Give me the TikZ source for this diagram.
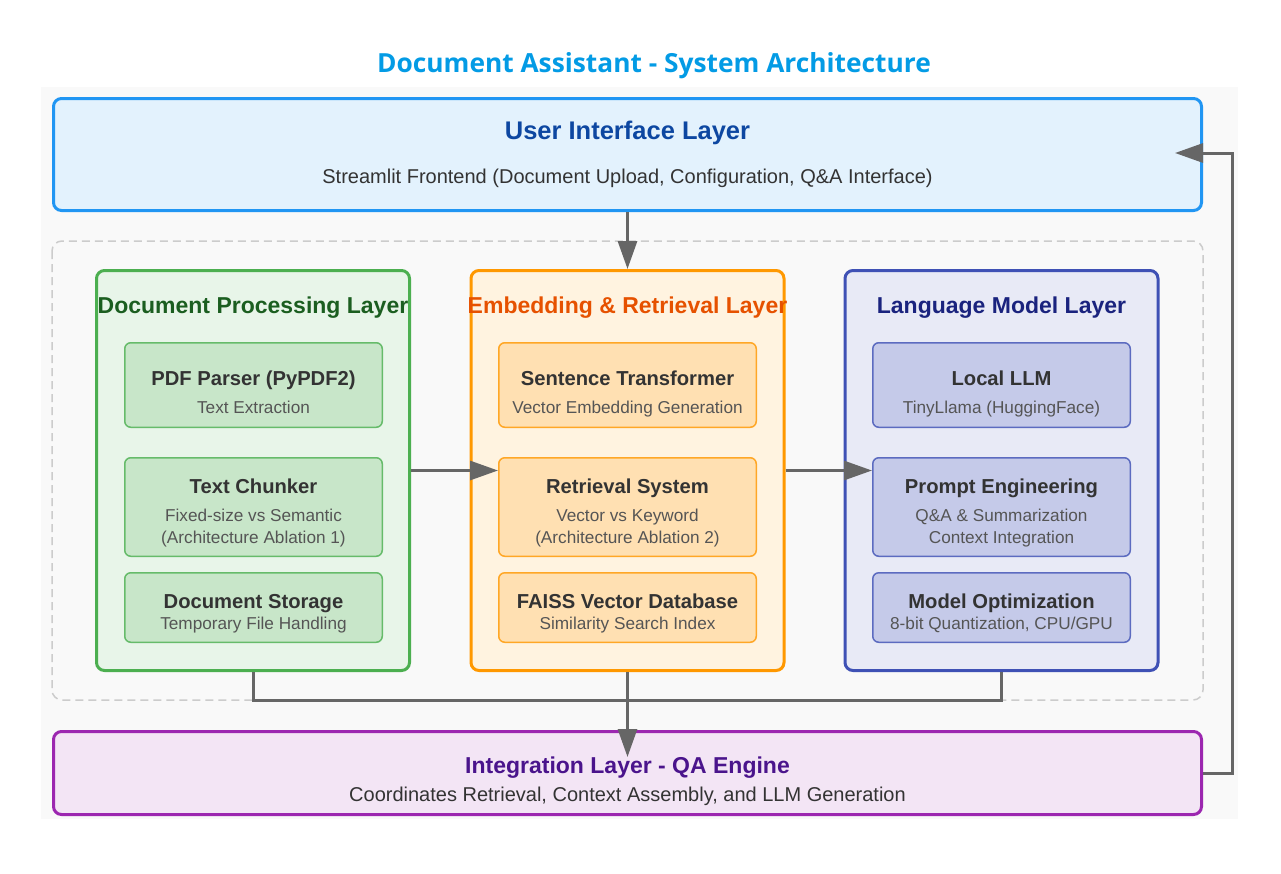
\documentclass[tikz,border=0pt]{standalone}
\usepackage{fontspec}
\setmainfont{Liberation Sans}
\newfontfamily\headfont{Open Sans}
\usetikzlibrary{arrows.meta}

\definecolor{bggray}{HTML}{F9F9F9}
\definecolor{titleblue}{HTML}{039BE5}
\definecolor{darktext}{HTML}{333333}
\definecolor{subtext}{HTML}{555555}
\definecolor{framegray}{HTML}{CCCCCC}
\definecolor{linkgray}{HTML}{666666}
\definecolor{uifill}{HTML}{E3F2FD}
\definecolor{uiline}{HTML}{2196F3}
\definecolor{uititle}{HTML}{0D47A1}
\definecolor{procfill}{HTML}{E8F5E9}
\definecolor{procline}{HTML}{4CAF50}
\definecolor{proctitle}{HTML}{1B5E20}
\definecolor{procin}{HTML}{C8E6C9}
\definecolor{procinline}{HTML}{66BB6A}
\definecolor{embfill}{HTML}{FFF3E0}
\definecolor{embline}{HTML}{FF9800}
\definecolor{embtitle}{HTML}{E65100}
\definecolor{embin}{HTML}{FFE0B2}
\definecolor{embinline}{HTML}{FFA726}
\definecolor{lmfill}{HTML}{E8EAF6}
\definecolor{lmline}{HTML}{3F51B5}
\definecolor{lmtitle}{HTML}{1A237E}
\definecolor{lmin}{HTML}{C5CAE9}
\definecolor{lminline}{HTML}{5C6BC0}
\definecolor{qafill}{HTML}{F3E5F5}
\definecolor{qaline}{HTML}{9C27B0}
\definecolor{qatitle}{HTML}{4A148C}

\begin{document}
\begin{tikzpicture}[x=1pt,y=-1pt,
  layer/.style={draw,rounded corners=8pt,line width=3pt,minimum width=1148pt,inner sep=0pt},
  column/.style={draw,rounded corners=8pt,line width=3pt,minimum width=313pt,minimum height=400pt,inner sep=0pt},
  inbox/.style={draw,rounded corners=6pt,line width=1.5pt,minimum width=257.5pt,inner sep=0pt},
  bigtxt/.style={anchor=base,inner sep=0pt,font=\fontsize{25.5}{30}\selectfont\bfseries},
  headtxt/.style={anchor=base,inner sep=0pt,font=\fontsize{23}{27}\selectfont\bfseries},
  bodytxt/.style={anchor=base,inner sep=0pt,text=darktext,font=\fontsize{20}{24}\selectfont},
  intitle/.style={anchor=base,inner sep=0pt,text=darktext,font=\fontsize{20.2}{24}\selectfont\bfseries},
  insub/.style={anchor=base,inner sep=0pt,text=subtext,font=\fontsize{17.2}{20}\selectfont},
  link/.style={draw=linkgray,line width=3pt},
  arr/.style={link,-{Triangle[length=28pt,width=19pt]}}]

  \useasboundingbox (0,0) rectangle (1281,873);
  \fill[bggray] (41,87) rectangle (1238,819);

  \node[anchor=base,inner sep=0pt,text=titleblue,font=\headfont\fontsize{26.3}{31}\selectfont\bfseries] (title) at (654,72) {Document Assistant - System Architecture};

  % user interface layer
  \node[layer,draw=uiline,fill=uifill,minimum height=112pt] (ui) at (627.5,154.5) {};
  \node[bigtxt,text=uititle] (ui-t) at (627.5,139.5) {User Interface Layer};
  \node[bodytxt] (ui-s) at (627.5,183) {Streamlit Frontend (Document Upload, Configuration, Q\&A Interface)};

  \draw[framegray,dash pattern=on 8pt off 5pt,line width=1.5pt,rounded corners=10pt] (52,241) rectangle (1203,700);

  % document processing
  \node[column,draw=procline,fill=procfill] (proc) at (253,470.5) {};
  \node[headtxt,text=proctitle] (proc-t) at (253,313) {Document Processing Layer};
  \node[inbox,draw=procinline,fill=procin,minimum height=84.5pt] (pdf) at (253.5,385) {};
  \node[intitle] (pdf-t) at (253.5,385) {PDF Parser (PyPDF2)};
  \node[insub] (pdf-s) at (253.5,413) {Text Extraction};
  \node[inbox,draw=procinline,fill=procin,minimum height=98.5pt] (chunk) at (253.5,507) {};
  \node[intitle] (chunk-t) at (253.5,493) {Text Chunker};
  \node[insub] (chunk-s) at (253.5,521.5) {Fixed-size vs Semantic};
  \node[insub] (chunk-a) at (253.5,543.5) {(Architecture Ablation 1)};
  \node[inbox,draw=procinline,fill=procin,minimum height=69.5pt] (store) at (253.5,607.5) {};
  \node[intitle] (store-t) at (253.5,608) {Document Storage};
  \node[insub] (store-s) at (253.5,629.5) {Temporary File Handling};

  % embedding and retrieval
  \node[column,draw=embline,fill=embfill] (emb) at (627.5,470.5) {};
  \node[headtxt,text=embtitle] (emb-t) at (627.5,313) {Embedding \& Retrieval Layer};
  \node[inbox,draw=embinline,fill=embin,minimum height=84.5pt] (sent) at (627.5,385) {};
  \node[intitle] (sent-t) at (627.5,385) {Sentence Transformer};
  \node[insub] (sent-s) at (627.5,413) {Vector Embedding Generation};
  \node[inbox,draw=embinline,fill=embin,minimum height=98.5pt] (retr) at (627.5,507) {};
  \node[intitle] (retr-t) at (627.5,493) {Retrieval System};
  \node[insub] (retr-s) at (627.5,521.5) {Vector vs Keyword};
  \node[insub] (retr-a) at (627.5,543.5) {(Architecture Ablation 2)};
  \node[inbox,draw=embinline,fill=embin,minimum height=69.5pt] (faiss) at (627.5,607.5) {};
  \node[intitle] (faiss-t) at (627.5,608) {FAISS Vector Database};
  \node[insub] (faiss-s) at (627.5,629.5) {Similarity Search Index};

  % language model
  \node[column,draw=lmline,fill=lmfill] (lm) at (1001.5,470.5) {};
  \node[headtxt,text=lmtitle] (lm-t) at (1001.5,313) {Language Model Layer};
  \node[inbox,draw=lminline,fill=lmin,minimum height=84.5pt] (llm) at (1001.5,385) {};
  \node[intitle] (llm-t) at (1001.5,385) {Local LLM};
  \node[insub] (llm-s) at (1001.5,413) {TinyLlama (HuggingFace)};
  \node[inbox,draw=lminline,fill=lmin,minimum height=98.5pt] (prompt) at (1001.5,507) {};
  \node[intitle] (prompt-t) at (1001.5,493) {Prompt Engineering};
  \node[insub] (prompt-s) at (1001.5,521.5) {Q\&A \& Summarization};
  \node[insub] (prompt-a) at (1001.5,543.5) {Context Integration};
  \node[inbox,draw=lminline,fill=lmin,minimum height=69.5pt] (opt) at (1001.5,607.5) {};
  \node[intitle] (opt-t) at (1001.5,608) {Model Optimization};
  \node[insub] (opt-s) at (1001.5,629.5) {8-bit Quantization, CPU/GPU};

  % integration layer
  \node[layer,draw=qaline,fill=qafill,minimum height=83pt] (qa) at (627.5,773) {};
  \node[headtxt,text=qatitle] (qa-t) at (627.5,773.5) {Integration Layer - QA Engine};
  \node[bodytxt] (qa-s) at (627.5,801.5) {Coordinates Retrieval, Context Assembly, and LLM Generation};

  \coordinate (qa-in) at (627.5,757);
  \coordinate (ui-in) at (1175,153);

  % connectors
  \draw[arr] (ui.south) -- (emb.north);
  \draw[arr] (proc.east) -- (proc.east -| retr.west);
  \draw[arr] (emb.east) -- (emb.east -| prompt.west);
  \draw[link] (proc.south) -- ++(0,28) -| (lm.south);
  \draw[arr] (emb.south) -- (qa-in);
  \draw[arr] (qa.east) -- ++(29,0) |- (ui-in);
\end{tikzpicture}
\end{document}
